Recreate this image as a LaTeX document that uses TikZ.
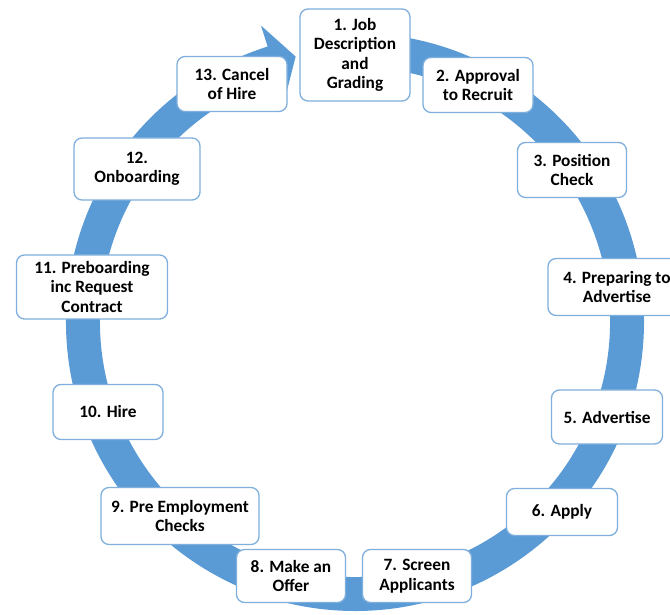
\documentclass[tikz,border=0pt]{standalone}
\usepackage{fontspec}
\setmainfont{Carlito}
\definecolor{ringblue}{HTML}{5B9BD5}
\definecolor{edgeblue}{HTML}{7EAFDD}
\tikzset{
  stage/.style={draw=edgeblue, line width=1.3pt, fill=white, rounded corners=8pt,
    align=center, inner sep=2pt, font=\bfseries\fontsize{17.3}{19.5}\selectfont},
}
\begin{document}
\begin{tikzpicture}[x=1pt,y=1pt]
			\useasboundingbox (0,0) rectangle (670,615);
			\coordinate (c) at (355,293);

			% ring with arrow head
			\fill[ringblue, shift={(c)}] (85:289) arc[start angle=85, end angle=-252.4, radius=289]
				-- (-252.4:311) -- (-257.4:272) -- (-252.4:233) -- (-252.4:255)
				arc[start angle=-252.4, end angle=85, radius=255] -- cycle;

			\node[stage, minimum width=110pt, minimum height=92pt] (s1) at (355,560) {1. Job\\Description\\and\\Grading};
			\node[stage, minimum width=110pt, minimum height=55pt] (s2) at (478,530) {2. Approval\\to Recruit};
			\node[stage, minimum width=109pt, minimum height=55pt] (s3) at (572,445) {3. Position\\Check};
			\node[stage, minimum width=138pt, minimum height=57pt] (s4) at (617,328) {4. Preparing to\\Advertise};
			\node[stage, minimum width=111pt, minimum height=54pt] (s5) at (607,198) {5. Advertise};
			\node[stage, minimum width=111pt, minimum height=47pt] (s6) at (562,103) {6. Apply};
			\node[stage, minimum width=109pt, minimum height=53pt] (s7) at (417,39) {7. Screen\\Applicants};
			\node[stage, minimum width=109pt, minimum height=53pt] (s8) at (291,39) {8. Make an\\Offer};
			\node[stage, minimum width=158pt, minimum height=57pt] (s9) at (180,99) {9. Pre Employment\\Checks};
			\node[stage, minimum width=110pt, minimum height=55pt] (s10) at (108,203) {10. Hire};
			\node[stage, minimum width=151pt, minimum height=64pt] (s11) at (92,328) {11. Preboarding\\inc Request\\Contract};
			\node[stage, minimum width=126pt, minimum height=62pt] (s12) at (137,446) {12.\\Onboarding};
			\node[stage, minimum width=110pt, minimum height=55pt] (s13) at (232,531) {13. Cancel\\of Hire};
		\end{tikzpicture}
\end{document}
